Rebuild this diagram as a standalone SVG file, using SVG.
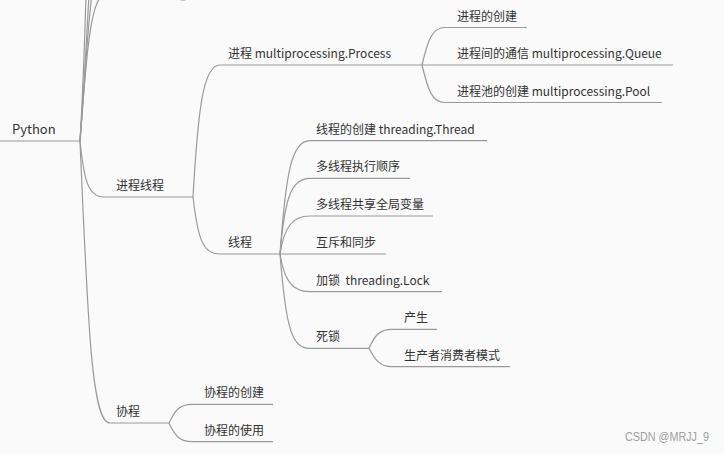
<svg xmlns="http://www.w3.org/2000/svg" width="724" height="454" viewBox="0 0 724 454">
<style>
.bg{fill:#fafafa}
.ln{fill:none;stroke:#9a9a9a;stroke-width:1.2}
.t{font-family:"Noto Sans CJK SC","Microsoft YaHei","Liberation Sans",sans-serif;font-size:12px;fill:#333}
.root{font-size:13px}
.wm{font-family:"Liberation Sans",Arial,sans-serif;font-size:12px;fill:#a0a0a0}
</style>
<rect class="bg" x="0" y="0" width="724" height="454"/>
<g id="connectors">
<path class="ln" d="M0,141 H80"/>
<path class="ln" d="M80,141 C83,90 85,30 86,-5"/>
<path class="ln" d="M80,141 C84,90 87,30 89,-5"/>
<path class="ln" d="M80,141 C85,80 88,20 92,-5"/>
<path class="ln" d="M80,141 C86,60 90,10 100,-2"/>
<path class="ln" d="M80,141 C84,180 88,197 104,197 H193"/>
<path class="ln" d="M80,141 C88,330 92,423 110,423 H169"/>
<path class="ln" d="M193,197 C198,110 203,65 220,65 H422"/>
<path class="ln" d="M193,197 C198,240 203,254 220,254 H280"/>
<path class="ln" d="M422,65 C428,40 432,27.5 445,27.5 H527"/>
<path class="ln" d="M422,65 H673"/>
<path class="ln" d="M422,65 C428,90 432,102.5 445,102.5 H662"/>
<path class="ln" d="M280,254 C286,170 292,140.7 310,140.7 H487"/>
<path class="ln" d="M280,254 C285,195 292,178.3 310,178.3 H410"/>
<path class="ln" d="M280,254 C284,228 292,216 310,216 H433"/>
<path class="ln" d="M280,254 H386"/>
<path class="ln" d="M280,254 C284,280 292,291.7 310,291.7 H442"/>
<path class="ln" d="M280,254 C286,330 292,348.3 310,348.3 H369"/>
<path class="ln" d="M369,348.3 C375,335 380,329.3 392,329.3 H437"/>
<path class="ln" d="M369,348.3 C375,360 380,366.7 392,366.7 H510"/>
<path class="ln" d="M169,423.3 C175,410 180,404.3 192,404.3 H273"/>
<path class="ln" d="M169,423.3 C175,436 180,441.7 192,441.7 H273"/>
</g>
<circle cx="183" cy="-5" r="6" fill="#bdbdbd"/>
<g id="n-python"><text class="t root" x="12" y="134">Python</text></g>
<g id="n-jcxc"><text class="t" x="116" y="190">进程线程</text></g>
<g id="n-process"><text class="t" x="228" y="58">进程 multiprocessing.Process</text></g>
<g id="n-p1"><text class="t" x="457" y="20.5">进程的创建</text></g>
<g id="n-p2"><text class="t" x="457" y="58">进程间的通信 multiprocessing.Queue</text></g>
<g id="n-p3"><text class="t" x="457" y="95.5">进程池的创建 multiprocessing.Pool</text></g>
<g id="n-thread"><text class="t" x="228" y="247">线程</text></g>
<g id="n-t1"><text class="t" x="316" y="134">线程的创建 threading.Thread</text></g>
<g id="n-t2"><text class="t" x="316" y="171.3">多线程执行顺序</text></g>
<g id="n-t3"><text class="t" x="316" y="209">多线程共享全局变量</text></g>
<g id="n-t4"><text class="t" x="316" y="247">互斥和同步</text></g>
<g id="n-t5"><text class="t" x="316" y="284.7" xml:space="preserve">加锁  threading.Lock</text></g>
<g id="n-t6"><text class="t" x="316" y="341.3">死锁</text></g>
<g id="n-d1"><text class="t" x="404" y="322.3">产生</text></g>
<g id="n-d2"><text class="t" x="404" y="359.7">生产者消费者模式</text></g>
<g id="n-coro"><text class="t" x="116" y="416.3">协程</text></g>
<g id="n-c1"><text class="t" x="204" y="397.3">协程的创建</text></g>
<g id="n-c2"><text class="t" x="204" y="434.7">协程的使用</text></g>
<text class="wm" x="625" y="441" textLength="84" lengthAdjust="spacingAndGlyphs">CSDN @MRJJ_9</text>
</svg>
